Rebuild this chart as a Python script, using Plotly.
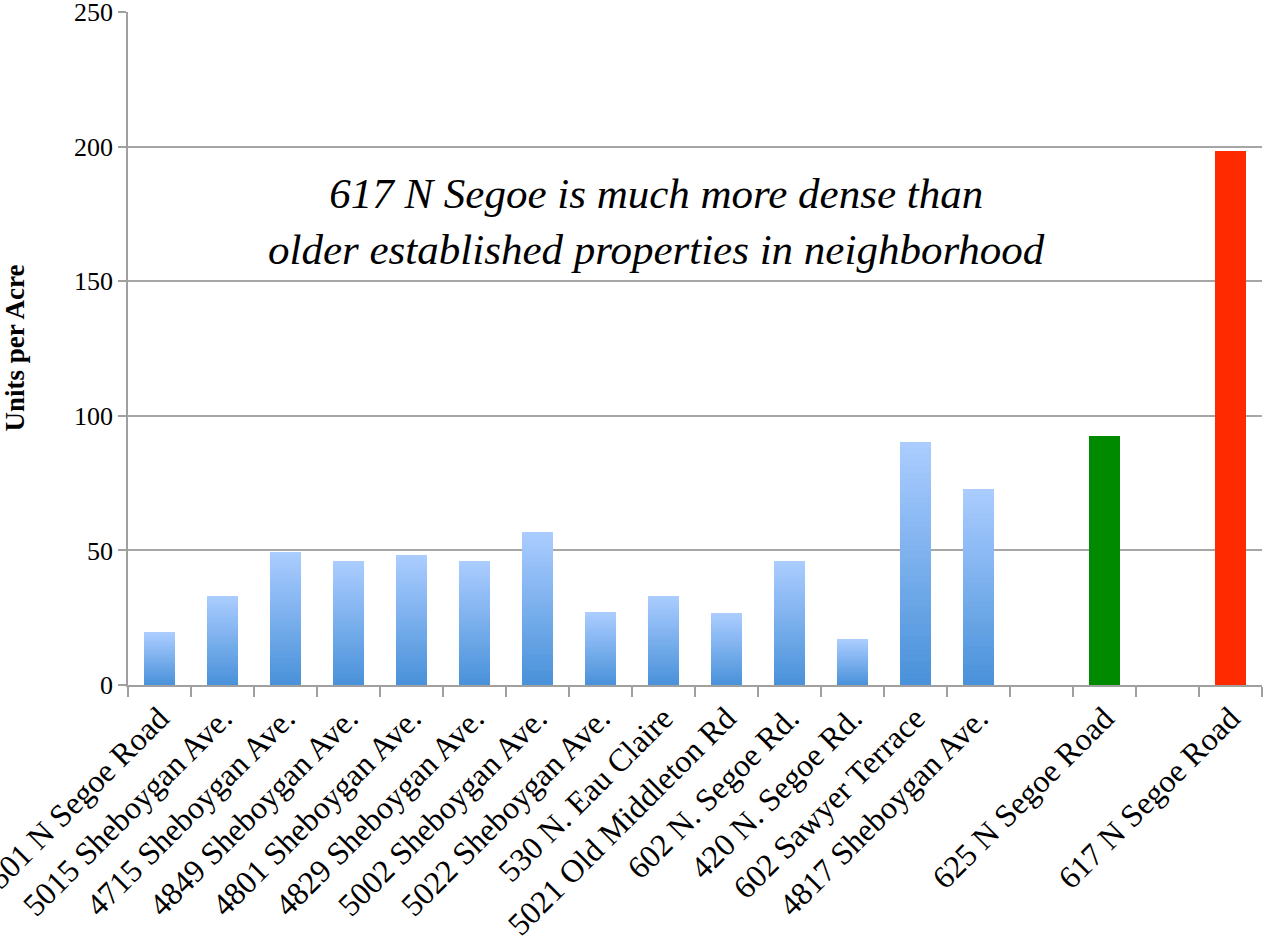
import plotly.graph_objects as go

categories = [
    "4501 N Segoe Road", "5015 Sheboygan Ave.", "4715 Sheboygan Ave.",
    "4849 Sheboygan Ave.", "4801 Sheboygan Ave.", "4829 Sheboygan Ave.",
    "5002 Sheboygan Ave.", "5022 Sheboygan Ave.", "530 N. Eau Claire",
    "5021 Old Middleton Rd", "602 N. Segoe Rd.", "420 N. Segoe Rd.",
    "602 Sawyer Terrace", "4817 Sheboygan Ave.", " ",
    "625 N Segoe Road", "  ", "617 N Segoe Road",
]
existing = [19.5, 33, 49.3, 46, 48.2, 46, 57, 27, 33.2, 26.7, 46, 17, 90.2, 72.7, None, None, None, None]
proposed_625 = [None] * 15 + [92.5, None, None]
proposed_617 = [None] * 17 + [198.3]

y_ticks = [0, 50, 100, 150, 200, 250]

FONT = "Liberation Serif"
N = 40
top_rgb = (170, 204, 255)
bot_rgb = (74, 146, 218)

fig = go.Figure()
for k in range(N):
    t = k / (N - 1)
    c = tuple(round(bot_rgb[i] + (top_rgb[i] - bot_rgb[i]) * t) for i in range(3))
    fig.add_trace(go.Bar(
        x=categories,
        y=[(v / N) if v is not None else None for v in existing],
        marker=dict(color=f"rgb{c}", line=dict(width=0)),
        width=0.5, showlegend=False, hoverinfo="skip",
    ))
fig.add_trace(go.Bar(x=categories, y=proposed_625, width=0.5,
                     marker=dict(color="#008a00", line=dict(width=0)), showlegend=False))
fig.add_trace(go.Bar(x=categories, y=proposed_617, width=0.5,
                     marker=dict(color="#ff2a00", line=dict(width=0)), showlegend=False))

fig.update_layout(
    barmode="stack",
    width=1264, height=951,
    margin=dict(l=128, r=2, t=12, b=266),
    plot_bgcolor="white", paper_bgcolor="white",
    font=dict(family=FONT, size=26, color="black"),
    xaxis=dict(
        type="category", categoryorder="array", categoryarray=categories,
        tickson="boundaries", ticks="outside", ticklen=10, tickwidth=1.5,
        tickcolor="#a0a0a0", tickangle=-45,
        showline=True, linecolor="#a0a0a0", linewidth=1.5,
        showgrid=False, tickfont=dict(family=FONT, size=32),
        ticklabeloverflow="allow", automargin=False,
    ),
    yaxis=dict(
        range=[0, 250], tickvals=y_ticks, ticks="outside", ticklen=8,
        tickwidth=1.5, tickcolor="#a0a0a0",
        showline=True, linecolor="#a0a0a0", linewidth=1.5,
        showgrid=True, gridcolor="#a6a6a6", gridwidth=1.5, zeroline=False,
        tickfont=dict(family=FONT, size=26),
        ticklabeloverflow="allow", automargin=False,
    ),
    annotations=[
        dict(
            text="<i>617 N Segoe is much more dense than<br>older established properties in neighborhood</i>",
            xref="paper", yref="y", x=0.466, y=172, showarrow=False,
            font=dict(family=FONT, size=43, color="black"), align="center",
        ),
        dict(
            text="<b>Units per Acre</b>", textangle=-90,
            xref="paper", yref="paper", x=-0.1005, y=0.5,
            xanchor="center", yanchor="middle", showarrow=False,
            font=dict(family=FONT, size=27, color="black"),
        ),
    ],
)

fig.write_html(
    "out.html",
    config={"displayModeBar": False},
    post_script="document.body.style.margin='0px';document.body.style.overflow='hidden';",
)
